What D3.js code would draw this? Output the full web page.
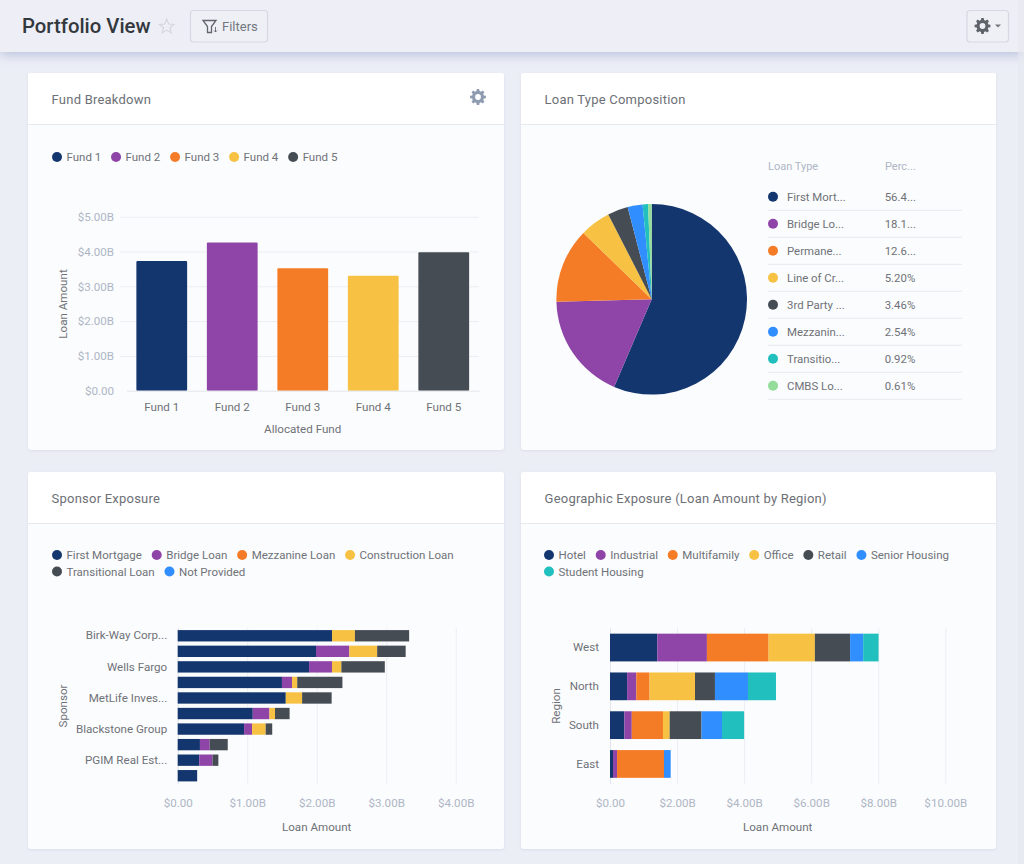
<!DOCTYPE html>
<html>
<head>
<meta charset="utf-8">
<title>Portfolio View</title>
<script src="https://cdnjs.cloudflare.com/ajax/libs/d3/7.8.5/d3.min.js"></script>
<style>
  html, body { margin: 0; padding: 0; background: #eceef6; overflow: hidden; }
  svg { display: block; font-family: Roboto, sans-serif; }
  .tick text { font-family: Roboto, sans-serif; }
</style>
</head>
<body>
<div id="chart"></div>
<script>
// colours
const navy = '#14366f', purple = '#8f44a8', orange = '#f57c27', yellow = '#f7c244',
      slate = '#464c54', blue = '#318eff', teal = '#22bfbf', green = '#93dc99'

// fund breakdown
const funds = ['Fund 1', 'Fund 2', 'Fund 3', 'Fund 4', 'Fund 5']
const fundAmounts = [3.73, 4.26, 3.52, 3.30, 3.98]
const fundColors = [navy, purple, orange, yellow, slate]
const fundTicks = [0, 1, 2, 3, 4, 5]

// loan types
const loanTypes = ['First Mort...', 'Bridge Lo...', 'Permane...', 'Line of Cr...', '3rd Party ...', 'Mezzanin...', 'Transitio...', 'CMBS Lo...']
const loanPercents = [56.45, 18.15, 12.67, 5.20, 3.46, 2.54, 0.92, 0.61]
const loanPercentLabels = ['56.4...', '18.1...', '12.6...', '5.20%', '3.46%', '2.54%', '0.92%', '0.61%']
const loanColors = [navy, purple, orange, yellow, slate, blue, teal, green]

// sponsors, every second label is hidden in the picture
const sponsorLabels = ['Birk-Way Corp...', '', 'Wells Fargo', '', 'MetLife Inves...', '', 'Blackstone Group', '', 'PGIM Real Est...', '']
const sponsorKeys = ['First Mortgage', 'Bridge Loan', 'Mezzanine Loan', 'Construction Loan', 'Transitional Loan', 'Not Provided']
const sponsorColors = [navy, purple, orange, yellow, slate, blue]
const sponsorFirst = [2.22, 1.99, 1.89, 1.50, 1.555, 1.08, 0.955, 0.32, 0.31, 0.28]
const sponsorBridge = [0, 0.48, 0.33, 0.145, 0, 0.24, 0.115, 0.14, 0.19, 0]
const sponsorMezz = [0, 0, 0, 0, 0, 0, 0, 0, 0, 0]
const sponsorConstruction = [0.33, 0.40, 0.135, 0.075, 0.235, 0.08, 0.196, 0, 0, 0]
const sponsorTransitional = [0.78, 0.41, 0.625, 0.65, 0.425, 0.21, 0.094, 0.26, 0.085, 0]
const sponsorNotProvided = [0, 0, 0, 0, 0, 0, 0, 0, 0, 0]
const sponsorTicks = [0, 1, 2, 3, 4]

// regions
const regions = ['West', 'North', 'South', 'East']
const regionKeys = ['Hotel', 'Industrial', 'Multifamily', 'Office', 'Retail', 'Senior Housing', 'Student Housing']
const regionColors = [navy, purple, orange, yellow, slate, blue, teal]
const regionHotel = [1.41, 0.51, 0.43, 0.09]
const regionIndustrial = [1.48, 0.275, 0.22, 0.12]
const regionMultifamily = [1.84, 0.395, 0.93, 1.40]
const regionOffice = [1.38, 1.355, 0.20, 0]
const regionRetail = [1.05, 0.595, 0.95, 0]
const regionSenior = [0.39, 0.985, 0.61, 0.20]
const regionStudent = [0.46, 0.835, 0.66, 0]
const regionTicks = [0, 2, 4, 6, 8, 10]

const textColor = '#6f7278', tickColor = '#aeb6c6', gridColor = '#eceef3'
const money = d => d === 0 ? '$0.00' : '$' + d.toFixed(2) + 'B'

const svg = d3.select('#chart').append('svg').attr('width', 1024).attr('height', 864)
const defs = svg.append('defs')

const headShadow = defs.append('filter').attr('id', 'headShadow').attr('x', '-5%').attr('y', '-50%').attr('width', '110%').attr('height', '220%')
headShadow.append('feDropShadow').attr('dx', 0).attr('dy', 3).attr('stdDeviation', 6).attr('flood-color', '#a2add0').attr('flood-opacity', 0.7)
const cardShadow = defs.append('filter').attr('id', 'cardShadow').attr('x', '-5%').attr('y', '-5%').attr('width', '110%').attr('height', '110%')
cardShadow.append('feDropShadow').attr('dx', 0).attr('dy', 1).attr('stdDeviation', 1.5).attr('flood-color', '#b9c0d6').attr('flood-opacity', 0.35)

function label(g, x, y, str, size, fill, anchor, weight) {
  return g.append('text')
    .attr('x', x)
    .attr('y', y)
    .attr('dominant-baseline', 'central')
    .attr('text-anchor', anchor || 'start')
    .style('font-size', size + 'px')
    .style('font-weight', weight || 400)
    .style('fill', fill)
    .text(str)
}

// gear icon, r is the outer radius
function gearPath(cx, cy, r) {
  const p = d3.path(), teeth = 8, inner = r * 0.76, hole = r * 0.36
  for (let i = 0; i < teeth; i++) {
    const a = i * 2 * Math.PI / teeth, w = Math.PI / teeth * 0.52
    const pts = [[inner, a - w * 1.25], [r, a - w * 0.75], [r, a + w * 0.75], [inner, a + w * 1.25]]
    pts.forEach((q, j) => {
      const x = cx + q[0] * Math.cos(q[1]), y = cy + q[0] * Math.sin(q[1])
      if (i === 0 && j === 0) p.moveTo(x, y)
      else p.lineTo(x, y)
    })
  }
  p.closePath()
  p.moveTo(cx + hole, cy)
  p.arc(cx, cy, hole, 0, 2 * Math.PI)
  return p.toString()
}

function card(x, y, w, h, title) {
  const g = svg.append('g')
  g.append('rect').attr('x', x).attr('y', y).attr('width', w).attr('height', h).attr('rx', 3)
    .attr('fill', '#fbfcfd').attr('filter', 'url(#cardShadow)')
  g.append('path')
    .attr('d', `M${x},${y + 51}V${y + 3}Q${x},${y} ${x + 3},${y}H${x + w - 3}Q${x + w},${y} ${x + w},${y + 3}V${y + 51}Z`)
    .attr('fill', '#fff')
  g.append('line').attr('x1', x).attr('x2', x + w).attr('y1', y + 51.5).attr('y2', y + 51.5).attr('stroke', '#e8e9ed')
  label(g, x + 23.6, y + 26.2, title, 13, '#6d7076').style('letter-spacing', '0.22px')
}

function legend(names, colors, x0, y0, maxX) {
  let x = x0, y = y0
  const g = svg.append('g')
  names.forEach((name, i) => {
    const t = label(g, x + 9.5, y, name, 11.5, textColor)
    const len = t.node().getComputedTextLength()
    if (x + 9.5 + len > maxX) {
      x = x0
      y += 16.5
      t.attr('x', x + 9.5).attr('y', y)
    }
    g.append('circle').attr('cx', x).attr('cy', y).attr('r', 5).attr('fill', colors[i])
    x += 9.5 + len + 14.8
  })
}

function styleAxis(g, fill, size) {
  g.select('.domain').remove()
  g.selectAll('.tick line').attr('stroke', gridColor)
  g.selectAll('.tick text').style('fill', fill).style('font-size', size + 'px')
}

// header bar
svg.append('rect').attr('x', 0).attr('y', 0).attr('width', 1024).attr('height', 52)
  .attr('fill', '#edeef6').attr('filter', 'url(#headShadow)')
label(svg, 22, 26, 'Portfolio View', 20.3, '#33383d', 'start', 500)

const star = d3.range(10).map(i => {
  const a = -Math.PI / 2 + i * Math.PI / 5, r = i % 2 ? 3.4 : 7.6
  return [166.7 + r * Math.cos(a), 26.7 + r * Math.sin(a)]
})
svg.append('path').attr('d', d3.line()(star) + 'Z').attr('fill', 'none').attr('stroke', '#d3d5dc').attr('stroke-width', 1.1)

svg.append('rect').attr('x', 190.5).attr('y', 10.5).attr('width', 77).attr('height', 31.5).attr('rx', 3)
  .attr('fill', '#eef0f6').attr('stroke', '#d6d9e1').attr('stroke-width', 1.2)
svg.append('path').attr('d', 'M203,20.5H216L211.5,26.5V32.5H207.5V26.5Z').attr('fill', 'none').attr('stroke', '#61656c').attr('stroke-width', 1.3)
svg.append('path').attr('d', 'M215.5,27V32M214,30.5L215.5,32L217,30.5').attr('fill', 'none').attr('stroke', '#61656c').attr('stroke-width', 0.9)
label(svg, 222, 26.5, 'Filters', 13, '#73777e')

svg.append('rect').attr('x', 967).attr('y', 10.5).attr('width', 41.5).attr('height', 31.5).attr('rx', 3)
  .attr('fill', '#eef0f6').attr('stroke', '#d6d9e1').attr('stroke-width', 1.2)
svg.append('path').attr('d', gearPath(982.5, 26, 8)).attr('fill', '#5e636a').attr('fill-rule', 'evenodd')
svg.append('path').attr('d', 'M995,24.5H1001L998,27.5Z').attr('fill', '#73777e')

// faint strip down the right edge of the page
svg.append('rect').attr('x', 1018).attr('y', 0).attr('width', 6).attr('height', 864).attr('fill', '#e6e8f0').attr('opacity', 0.6)

// cards
card(28, 73, 476, 377, 'Fund Breakdown')
card(521, 73, 475, 377, 'Loan Type Composition')
card(28, 472, 476, 377, 'Sponsor Exposure')
card(521, 472, 475, 377, 'Geographic Exposure (Loan Amount by Region)')

svg.append('path').attr('d', gearPath(478, 97, 8)).attr('fill', '#8f9bb0').attr('fill-rule', 'evenodd')

/* ---------- Fund Breakdown ---------- */
legend(funds, fundColors, 57, 157, 490)

const fundX = d3.scaleBand().domain(funds).range([126.5, 479]).paddingInner(0.28).paddingOuter(0.14)
const fundY = d3.scaleLinear().domain([0, 5]).range([390.7, 216.7])

const fundYAxis = svg.append('g').attr('transform', 'translate(120,0)')
  .call(d3.axisLeft(fundY).tickValues(fundTicks).tickFormat(money).tickSize(-359).tickPadding(6))
styleAxis(fundYAxis, tickColor, 11.6)
fundYAxis.selectAll('.tick').filter(d => d === 0).select('line').remove()

svg.append('g').selectAll('rect').data(fundAmounts).join('rect')
  .attr('x', (d, i) => fundX(funds[i]))
  .attr('y', d => fundY(d))
  .attr('width', fundX.bandwidth())
  .attr('height', d => fundY(0) - fundY(d))
  .attr('rx', 1)
  .attr('fill', (d, i) => fundColors[i])

const fundXAxis = svg.append('g').attr('transform', `translate(0,${fundY(0)})`)
  .call(d3.axisBottom(fundX).tickSize(0).tickPadding(12.5))
fundXAxis.select('.domain').attr('stroke', '#e3e5ea')
fundXAxis.selectAll('.tick text').style('fill', textColor).style('font-size', '11.6px')

label(svg, 62.5, 0, 'Loan Amount', 11.6, textColor, 'middle').attr('transform', 'translate(0,304) rotate(-90,62.5,0)')
label(svg, 302.7, 428.7, 'Allocated Fund', 11.6, textColor, 'middle')

/* ---------- Loan Type Composition ---------- */
const pie = d3.pie().sort(null).value(d => d)
const arc = d3.arc().innerRadius(0).outerRadius(95.3)
svg.append('g').attr('transform', 'translate(651.7,299.3)')
  .selectAll('path').data(pie(loanPercents)).join('path')
  .attr('d', arc)
  .attr('fill', (d, i) => loanColors[i])

label(svg, 768, 166.5, 'Loan Type', 11, tickColor)
label(svg, 885, 166.5, 'Perc...', 11, tickColor)

const rowY = d3.scaleBand().domain(d3.range(loanTypes.length)).range([183.3, 399.3])
const rows = svg.append('g').selectAll('g').data(loanTypes).join('g')
  .attr('transform', (d, i) => `translate(0,${rowY(i)})`)
rows.append('circle').attr('cx', 773).attr('cy', 13.5).attr('r', 5).attr('fill', (d, i) => loanColors[i])
rows.append('text').attr('x', 787).attr('y', 13.4).attr('dominant-baseline', 'central')
  .style('font-size', '11.4px').style('fill', textColor).text(d => d)
rows.append('text').attr('x', 884.7).attr('y', 13.4).attr('dominant-baseline', 'central')
  .style('font-size', '11.4px').style('fill', textColor).text((d, i) => loanPercentLabels[i])
rows.append('line').attr('x1', 768).attr('x2', 962).attr('y1', rowY.bandwidth()).attr('y2', rowY.bandwidth()).attr('stroke', '#e8e9ee')

/* ---------- stacked bars ---------- */
function stackedChart(o) {
  const table = o.rows.map((r, i) => {
    const row = { row: r }
    o.keys.forEach((k, j) => { row[k] = o.series[j][i] })
    return row
  })
  const stacked = d3.stack().keys(o.keys)(table)

  const x = d3.scaleLinear().domain(o.domain).range(o.xRange)
  const y = d3.scaleBand().domain(o.rows).range([628, o.bottom]).paddingInner(o.padding).paddingOuter(o.outer)

  const xAxis = svg.append('g').attr('transform', `translate(0,${o.bottom})`)
    .call(d3.axisBottom(x).tickValues(o.ticks).tickFormat(money).tickSize(-(o.bottom - 628)).tickPadding(15))
  styleAxis(xAxis, tickColor, 11.6)

  // axis first so the bars sit on top of its line
  const yAxis = svg.append('g').attr('transform', `translate(${o.xRange[0]},0)`)
    .call(d3.axisLeft(y).tickSize(0).tickPadding(o.labelPad).tickFormat(o.format))
  yAxis.select('.domain').attr('stroke', '#e3e5ea')
  yAxis.selectAll('.tick text').style('fill', textColor).style('font-size', '11.6px')

  stacked.forEach((s, j) => {
    svg.append('g').attr('fill', o.colors[j])
      .selectAll('rect').data(s.filter(d => d[1] > d[0])).join('rect')
      .attr('x', d => x(d[0]))
      .attr('y', d => y(d.data.row))
      .attr('width', d => x(d[1]) - x(d[0]))
      .attr('height', y.bandwidth())
  })

  label(svg, o.yTitleX, 0, o.yTitle, 11.6, textColor, 'middle').attr('transform', `translate(0,706) rotate(-90,${o.yTitleX},0)`)
  label(svg, o.xTitleX, 827, 'Loan Amount', 11.6, textColor, 'middle')
}

legend(sponsorKeys, sponsorColors, 57, 555, 490)
stackedChart({
  rows: d3.range(sponsorLabels.length),
  keys: sponsorKeys,
  colors: sponsorColors,
  series: [sponsorFirst, sponsorBridge, sponsorMezz, sponsorConstruction, sponsorTransitional, sponsorNotProvided],
  domain: [0, 4],
  xRange: [177.7, 455.7],
  ticks: sponsorTicks,
  bottom: 783.5,
  padding: 0.27,
  outer: 0.135,
  labelPad: 10.5,
  format: i => sponsorLabels[i],
  yTitle: 'Sponsor',
  yTitleX: 62.5,
  xTitleX: 316.7
})

legend(regionKeys, regionColors, 549, 555, 975)
stackedChart({
  rows: regions,
  keys: regionKeys,
  colors: regionColors,
  series: [regionHotel, regionIndustrial, regionMultifamily, regionOffice, regionRetail, regionSenior, regionStudent],
  domain: [0, 10],
  xRange: [610, 945.3],
  ticks: regionTicks,
  bottom: 783.5,
  padding: 0.285,
  outer: 0.146,
  labelPad: 11,
  format: d => d,
  yTitle: 'Region',
  yTitleX: 555.5,
  xTitleX: 777.7
})
</script>
</body>
</html>
